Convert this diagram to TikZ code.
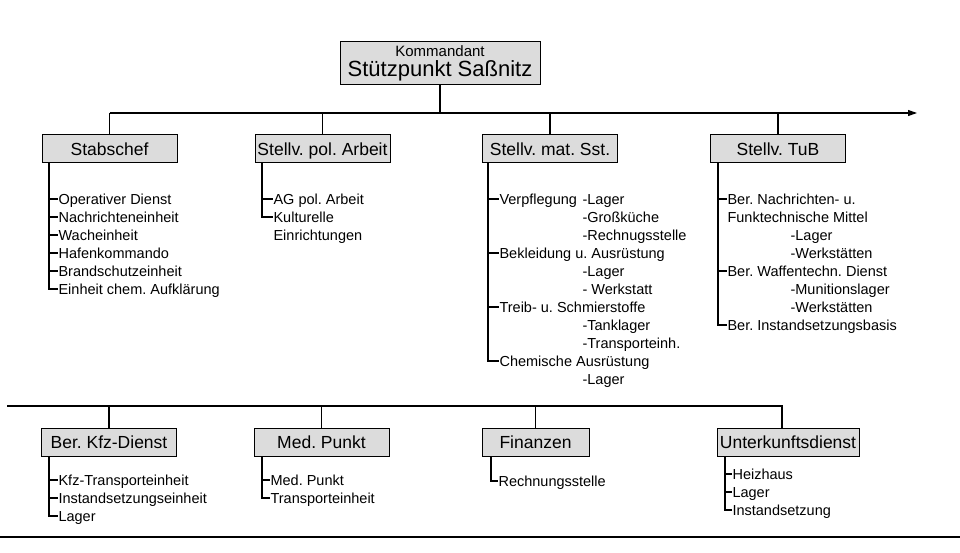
\documentclass[tikz,border=0pt]{standalone}
\usepackage{fontspec}
\setmainfont{Liberation Sans}
\usetikzlibrary{arrows.meta,positioning}

\definecolor{boxgray}{HTML}{DCDCDC}
\frenchspacing

\begin{document}
\begin{tikzpicture}[x=1pt, y=-1pt, line width=1.1pt,
    every node/.style={font=\fontsize{14.5}{17}\selectfont, inner sep=0pt},
    topbox/.style={draw, fill=boxgray, line width=1pt, minimum width=200pt, minimum height=43pt,
      align=center, font=\fontsize{15}{19.5}\selectfont},
    unit/.style={draw, fill=boxgray, line width=1pt, minimum height=28pt, minimum width=135pt,
      text height=12.5pt, text depth=0pt, font=\fontsize{17.5}{20}\selectfont},
    item/.style={anchor=west, text height=10.5pt, text depth=0pt}]
  \useasboundingbox (0,0) rectangle (960,553);

  % Leitung
  \node[topbox] (kdt) at (440,63.5) {Kommandant\\{\fontsize{22}{19.5}\selectfont Stützpunkt Saßnitz}};

  % obere Ebene
  \node[unit] (stab) at (109.5,149) {Stabschef};
  \node[unit] (pol) at (322.5,149) {Stellv. pol. Arbeit};
  \node[unit] (mat) at (550,149) {Stellv. mat. Sst.};
  \node[unit] (tub) at (778,149) {Stellv. TuB};

  \coordinate (bus) at (0,113);
  \coordinate (busend) at (917,113);
  \draw (kdt.south) -- (kdt.south |- bus);
  \draw[-{Triangle[length=9pt,width=6pt]}] (stab.north |- bus) -- (busend);
  \foreach \n in {stab,pol,mat,tub}
    \draw (\n.north) -- (\n.north |- bus);

  % Stabschef
  \foreach \t [count=\i] in {Operativer Dienst, Nachrichteneinheit, Wacheinheit, Hafenkommando, Brandschutzeinheit, Einheit chem. Aufklärung}
    \node[item] (sb\i) at (58,181+18*\i) {\t};
  \coordinate (sbL) at (49,163);
  \draw (sbL) |- (sb6.west);
  \foreach \i in {1,...,5}
    \draw (sb\i.west -| sbL) -- (sb\i.west);

  % Stellv. pol. Arbeit
  \node[item] (pa1) at (273,199) {AG pol. Arbeit};
  \node[item] (pa2) at (273,217) {Kulturelle};
  \node[item] (pa3) at (273,235) {Einrichtungen};
  \coordinate (paL) at (262,163);
  \draw (paL) |- (pa2.west);
  \draw (pa1.west -| paL) -- (pa1.west);

  % Stellv. mat. Sst.
  \foreach \t/\k [count=\i] in {Verpflegung/1, Bekleidung u. Ausrüstung/4, Treib- u. Schmierstoffe/7, Chemische Ausrüstung/10}
    \node[item] (ms\i) at (499,181+18*\k) {\t};
  \foreach \t/\k in {-Lager/1, -Großküche/2, -Rechnugsstelle/3, -Lager/5, - Werkstatt/6, -Tanklager/8, -Transporteinh./9, -Lager/11}
    \node[item] (msub\k) at (582,181+18*\k) {\t};
  \coordinate (msL) at (488,163);
  \draw (msL) |- (ms4.west);
  \foreach \i in {1,2,3}
    \draw (ms\i.west -| msL) -- (ms\i.west);

  % Stellv. TuB
  \foreach \t/\k [count=\i] in {Ber. Nachrichten- u./1, Ber. Waffentechn. Dienst/5, Ber. Instandsetzungsbasis/8}
    \node[item] (tb\i) at (727,181+18*\k) {\t};
  \node[item] (tb1b) at (727,217) {Funktechnische Mittel};
  \foreach \t/\k in {-Lager/3, -Werkstätten/4, -Munitionslager/6, -Werkstätten/7}
    \node[item] (tsub\k) at (790,181+18*\k) {\t};
  \coordinate (tbL) at (718,163);
  \draw (tbL) |- (tb3.west);
  \foreach \i in {1,2}
    \draw (tb\i.west -| tbL) -- (tb\i.west);

  % untere Ebene
  \node[unit] (kfz) at (109,442.5) {Ber. Kfz-Dienst};
  \node[unit] (med) at (321.5,442.5) {Med. Punkt};
  \node[unit, minimum width=107pt] (fin) at (535.5,442.5) {Finanzen};
  \node[unit, minimum width=142pt] (unt) at (788,442.5) {Unterkunftsdienst};

  \coordinate (bus2) at (7,406);
  \draw (bus2) -- ([xshift=-6pt]unt.north |- bus2) -- ([xshift=-6pt]unt.north);
  \foreach \n in {kfz,med,fin}
    \draw (\n.north) -- (\n.north |- bus2);

  % Ber. Kfz-Dienst
  \foreach \t [count=\i] in {Kfz-Transporteinheit, Instandsetzungseinheit, Lager}
    \node[item] (kz\i) at (58,462+18*\i) {\t};
  \coordinate (kzL) at (49,457);
  \draw (kzL) |- (kz3.west);
  \foreach \i in {1,2}
    \draw (kz\i.west -| kzL) -- (kz\i.west);

  % Med. Punkt
  \foreach \t [count=\i] in {Med. Punkt, Transporteinheit}
    \node[item] (mp\i) at (270,462+18*\i) {\t};
  \coordinate (mpL) at (262,457);
  \draw (mpL) |- (mp2.west);
  \draw (mp1.west -| mpL) -- (mp1.west);

  % Finanzen
  \node[item] (fn1) at (498,481) {Rechnungsstelle};
  \coordinate (fnL) at (491,457);
  \draw (fnL) |- (fn1.west);

  % Unterkunftsdienst
  \foreach \t [count=\i] in {Heizhaus, Lager, Instandsetzung}
    \node[item] (ud\i) at (732,456+18*\i) {\t};
  \coordinate (udL) at (725,457);
  \draw (udL) |- (ud3.west);
  \foreach \i in {1,2}
    \draw (ud\i.west -| udL) -- (ud\i.west);

  \draw[line width=2.2pt] (0,537) -- (960,537);
\end{tikzpicture}
\end{document}
